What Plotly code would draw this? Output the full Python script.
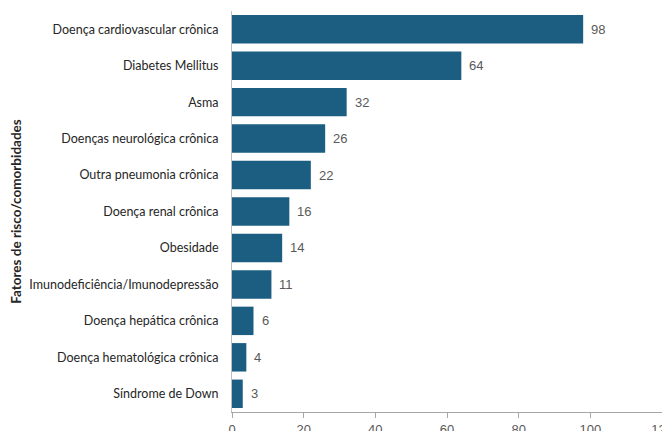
import plotly.graph_objects as go

categories = ["Doença cardiovascular crônica", "Diabetes Mellitus", "Asma",
              "Doenças neurológica crônica", "Outra pneumonia crônica",
              "Doença renal crônica", "Obesidade", "Imunodeficiência/Imunodepressão",
              "Doença hepática crônica", "Doença hematológica crônica", "Síndrome de Down"]
values = [98, 64, 32, 26, 22, 16, 14, 11, 6, 4, 3]
x_ticks = [0, 20, 40, 60, 80, 100, 120]

cat_r = categories[::-1]
val_r = values[::-1]

fig = go.Figure(go.Bar(
    y=cat_r, x=val_r, orientation="h",
    marker=dict(color="#1B5E81", line=dict(width=0)),
    width=0.78,
))

for c, v in zip(cat_r, val_r):
    fig.add_annotation(x=v, y=c, text=str(v), showarrow=False, xanchor="left",
                       xshift=6, font=dict(family="Liberation Sans, Arial", size=13, color="#595959"))

fig.update_layout(
    width=662, height=423,
    margin=dict(l=224, r=8, t=3, b=19),
    plot_bgcolor="white", paper_bgcolor="white",
    showlegend=False,
    xaxis=dict(range=[0, 120], tickvals=x_ticks, showgrid=False, zeroline=False,
               automargin=False, ticklabeloverflow="allow",
               showline=True, linecolor="#A6A6A6", linewidth=1,
               ticks="outside", ticklen=5, tickcolor="#A6A6A6",
               tickfont=dict(family="Liberation Sans, Arial", size=13, color="#595959")),
    yaxis=dict(showgrid=False, showline=True, linecolor="#BFBFBF", linewidth=1,
               automargin=False,
               ticks="", ticklabelstandoff=10,
               tickfont=dict(family="Lato, Open Sans", size=12.5, color="#262626"),
               title=dict(text="<b>Fatores de risco/comorbidades</b>", standoff=6,
                          font=dict(family="Lato, Open Sans", size=13.5, color="#262626"))),
)

fig.write_html("out.html")
